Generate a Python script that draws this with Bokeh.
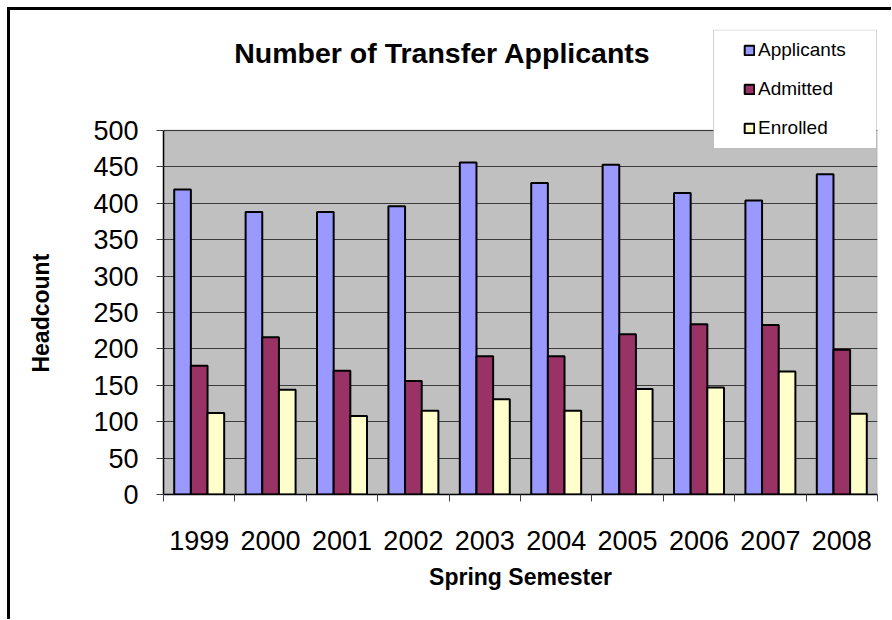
import numpy as np
from bokeh.plotting import figure
from bokeh.models import (Legend, LegendItem, FixedTicker, Range1d, ColumnDataSource,
                          BoxAnnotation, Label)
from bokeh.transform import dodge
from bokeh.embed import file_html
from bokeh.resources import INLINE

# ---- data ----
years = ["1999", "2000", "2001", "2002", "2003", "2004", "2005", "2006", "2007", "2008"]
applicants = [419, 388, 388, 396, 456, 428, 453, 414, 404, 440]
admitted = [177, 216, 170, 156, 190, 190, 220, 234, 233, 199]
enrolled = [112, 144, 108, 115, 131, 115, 145, 147, 169, 111]
series_names = ["Applicants", "Admitted", "Enrolled"]
y_ticks = [0, 50, 100, 150, 200, 250, 300, 350, 400, 450, 500]
title_text = "Number of Transfer Applicants"

colors = ["#9999FF", "#993366", "#FFFFCC"]
FONT = "Liberation Sans"

# ---- layout (pixels) ----
FRAME_W = 714
PLOT_H = 364          # height of the 0..500 plot area
FRAME_H = 465         # frame also holds the title/legend band above the plot area
Y_MAX = y_ticks[-1]
y_top = Y_MAX * FRAME_H / PLOT_H
x_lo, x_hi = -0.5, len(years) - 0.5


def px_x(px):  # pixels from frame left -> data x
    return x_lo + px / FRAME_W * (x_hi - x_lo)


def px_y(px):  # pixels from frame bottom -> data y
    return px / FRAME_H * y_top


idx = np.arange(len(years))
src = ColumnDataSource(dict(x=idx, Applicants=applicants, Admitted=admitted, Enrolled=enrolled))

p = figure(title=None, frame_width=FRAME_W, frame_height=FRAME_H,
           min_border_left=153, min_border_top=19, min_border_right=14, min_border_bottom=125,
           x_range=Range1d(x_lo, x_hi), y_range=Range1d(0, y_top),
           output_backend="svg", toolbar_location=None)
p.styles = {"border-left": "3px solid black", "border-top": "3px solid black",
            "margin-left": "7px", "margin-top": "7px"}

p.background_fill_color = "white"
p.border_fill_color = "white"
p.outline_line_color = None

# grey plot area 0..500
area = BoxAnnotation(bottom=0, top=Y_MAX, fill_color="#C0C0C0", fill_alpha=1,
                     line_color="#808080", line_width=2, level="image")
p.add_layout(area)

bw = 0.2333
offsets = [-bw, 0.0, bw]
renderers = []
for name, col, off in zip(series_names, colors, offsets):
    r = p.vbar(x=dodge("x", off, range=p.x_range), top=name, width=bw, source=src,
               fill_color=col, line_color="black", line_width=2)
    renderers.append(r)

# x axis: labels at centers, tick marks at boundaries (minor ticks)
xa = p.xaxis[0]
xa.ticker = FixedTicker(ticks=list(idx), minor_ticks=list(np.arange(len(years) + 1) - 0.5))
xa.major_label_overrides = {int(i): y for i, y in zip(idx, years)}
xa.major_tick_out = 0
xa.major_tick_in = 0
xa.minor_tick_out = 7
xa.minor_tick_in = 0
xa.minor_tick_line_color = "#404040"
xa.axis_line_color = "black"
xa.axis_line_width = 1.5
xa.major_label_text_font = FONT
xa.major_label_text_font_size = "27px"
xa.major_label_text_color = "black"
xa.major_label_standoff = 29
xa.axis_label = "Spring Semester"
xa.axis_label_text_font = FONT
xa.axis_label_text_font_size = "23px"
xa.axis_label_text_font_style = "bold"
xa.axis_label_text_color = "black"
xa.axis_label_standoff = 11

ya = p.yaxis[0]
ya.bounds = (0, Y_MAX)
ya.ticker = FixedTicker(ticks=y_ticks)
ya.major_tick_out = 7
ya.major_tick_in = 0
ya.major_tick_line_color = "#404040"
ya.minor_tick_line_color = None
ya.axis_line_color = "black"
ya.axis_line_width = 1.5
ya.major_label_text_font = FONT
ya.major_label_text_font_size = "27px"
ya.major_label_text_color = "black"
ya.major_label_standoff = 18
# trailing no-break spaces centre the visible word on the 0..500 part of the axis
ya.axis_label = "Headcount" + "\u00a0" * 16
ya.axis_label_text_font = FONT
ya.axis_label_text_font_size = "23px"
ya.axis_label_text_font_style = "bold"
ya.axis_label_text_color = "black"
ya.axis_label_standoff = 36

p.xgrid.grid_line_color = None
p.ygrid.grid_line_color = "#3c3c3c"
p.ygrid.grid_line_width = 1

# title (inside the white band above the plot area)
title = Label(x=279, y=442, x_units="screen", y_units="screen", text=title_text,
              text_align="center", text_baseline="middle",
              text_font=FONT, text_font_size="28.5px", text_font_style="bold", text_color="black")
p.add_layout(title)

# legend box
lbox = BoxAnnotation(left=px_x(550), right=px_x(713), bottom=px_y(346), top=px_y(464.5),
                     fill_color="white", fill_alpha=1, line_color="#707070", line_width=1)
p.add_layout(lbox)

legend = Legend(items=[LegendItem(label=n, renderers=[r]) for n, r in zip(series_names, renderers)],
                location=(580, 355), orientation="vertical",
                glyph_width=12, glyph_height=12, label_standoff=3, spacing=17,
                label_height=22, padding=0, margin=0,
                background_fill_alpha=0, border_line_color=None,
                label_text_font=FONT, label_text_font_size="19px", label_text_color="black")
p.add_layout(legend)

open("out.html", "w").write(file_html(p, INLINE))
